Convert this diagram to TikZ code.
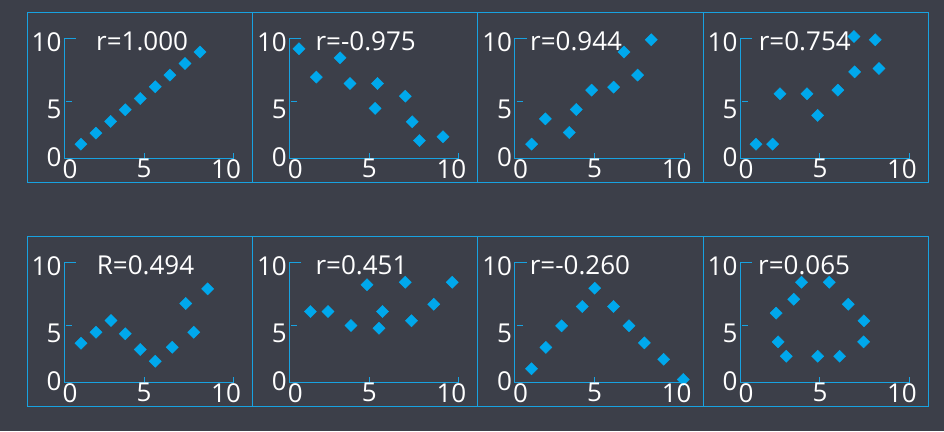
\documentclass[tikz,border=0pt]{standalone}
\usepackage{fontspec}
\setmainfont{Open Sans}
\usetikzlibrary{plotmarks}
\definecolor{slate}{RGB}{60,63,73}
\definecolor{cyanline}{RGB}{24,162,224}
\definecolor{dotblue}{RGB}{0,168,236}
\tikzset{
  frame/.style={draw=cyanline,line width=1pt},
  axisline/.style={draw=cyanline,line width=1pt},
  ticklabel/.style={text=white,inner sep=0pt,font=\fontsize{26}{31}\selectfont},
  rlabel/.style={ticklabel,anchor=west},
  dots/.style={only marks,mark=square*,mark size=4.3pt,
    mark options={rotate=45,draw=dotblue,fill=dotblue,line width=0.4pt}},
}
% #1 name, #2 left edge, #3 bottom edge, #4 x of the r label, #5 r label, #6 points
\newcommand{\corrpanel}[6]{%
  \begin{scope}[shift={(#2pt+27.4pt,#3pt+18.8pt)},x=17.87pt,y=12.53pt]
    \draw[axisline] (1.19,10) -- (0.54,10) -- (0.54,0.43) -- (10,0.43);
    \draw[axisline] (0.63,5) -- (0.97,5);
    \foreach \t in {5,10} \draw[axisline] (\t,0.43) -- (\t,0.93);
    \draw[dotblue] plot[dots] coordinates{#6};
    \node[ticklabel,anchor=east] (#1-y10) at (0.39,9.74) {10};
    \node[ticklabel,anchor=east] (#1-y5) at (0.39,4.34) {5};
    \node[ticklabel,anchor=east] (#1-y0) at (0.39,0.55) {0};
    \node[ticklabel] (#1-x0) at (0.86,-0.37) {0};
    \node[ticklabel] (#1-x5) at (5,-0.37) {5};
    \node[ticklabel] (#1-x10) at (9.59,-0.37) {10};
    \node[rlabel] (#1-r) at (#4,9.79) {#5};
  \end{scope}}
\begin{document}
\begin{tikzpicture}[x=1pt,y=1pt]
  \fill[slate] (0,0) rectangle (944,431);
  % panel frames
  \foreach \px/\qx in {27.5/252.5,252.5/477.5,477.5/703.5,703.5/928.5}
    \foreach \py in {24.5,248.5}
      \draw[frame] (\px,\py) rectangle (\qx,\py+170);
  % top row
  \corrpanel{linear}{27.3}{248}{2.31}{r=1.000}{(1.47,1.60) (2.31,2.48) (3.13,3.41) (3.95,4.34) (4.79,5.24) (5.63,6.18) (6.45,7.11) (7.29,8.04) (8.13,8.95)}
  \corrpanel{falling}{252.6}{248}{1.98}{r=-0.975}{(1.06,9.21) (2.03,6.95) (3.36,8.49) (3.92,6.44) (5.46,6.44) (5.32,4.45) (7.01,5.43) (7.40,3.38) (7.80,1.89) (9.12,2.19)}
  \corrpanel{rising}{477.9}{248}{1.38}{r=0.944}{(1.47,1.60) (2.24,3.62) (3.58,2.53) (3.97,4.37) (4.83,5.91) (6.06,6.15) (6.64,8.95) (7.40,7.11) (8.17,9.93)}
  \corrpanel{loose}{703.2}{248}{1.57}{r=0.754}{(1.42,1.60) (2.35,1.60) (2.76,5.62) (4.27,5.62) (4.87,3.89) (6.00,5.91) (6.94,7.37) (6.90,10.19) (8.09,9.93) (8.30,7.64)}
  % bottom row
  \corrpanel{dip}{27.3}{24}{2.35}{R=0.494}{(1.47,3.59) (2.31,4.47) (3.15,5.40) (3.95,4.34) (4.79,3.09) (5.63,2.15) (6.58,3.27) (7.33,6.76) (7.78,4.47) (8.56,7.93)}
  \corrpanel{scatter}{252.6}{24}{1.98}{r=0.451}{(1.70,6.12) (2.69,6.12) (3.97,5.00) (4.87,8.25) (5.54,4.79) (5.74,6.12) (7.01,8.46) (7.36,5.38) (8.60,6.70) (9.64,8.46)}
  \corrpanel{peak}{477.9}{24}{1.36}{r=-0.260}{(1.47,1.55) (2.27,3.25) (3.15,4.98) (4.31,6.52) (5.00,7.98) (6.06,6.52) (6.92,4.98) (7.78,3.62) (8.86,2.31) (9.96,0.69)}
  \corrpanel{ring}{703.2}{24}{1.53}{r=0.065}{(2.55,5.99) (2.66,3.70) (3.11,2.55) (3.53,7.10) (3.97,8.46) (4.87,2.55) (5.52,8.46) (6.10,2.55) (6.58,6.70) (7.44,3.70) (7.46,5.38)}
\end{tikzpicture}
\end{document}
